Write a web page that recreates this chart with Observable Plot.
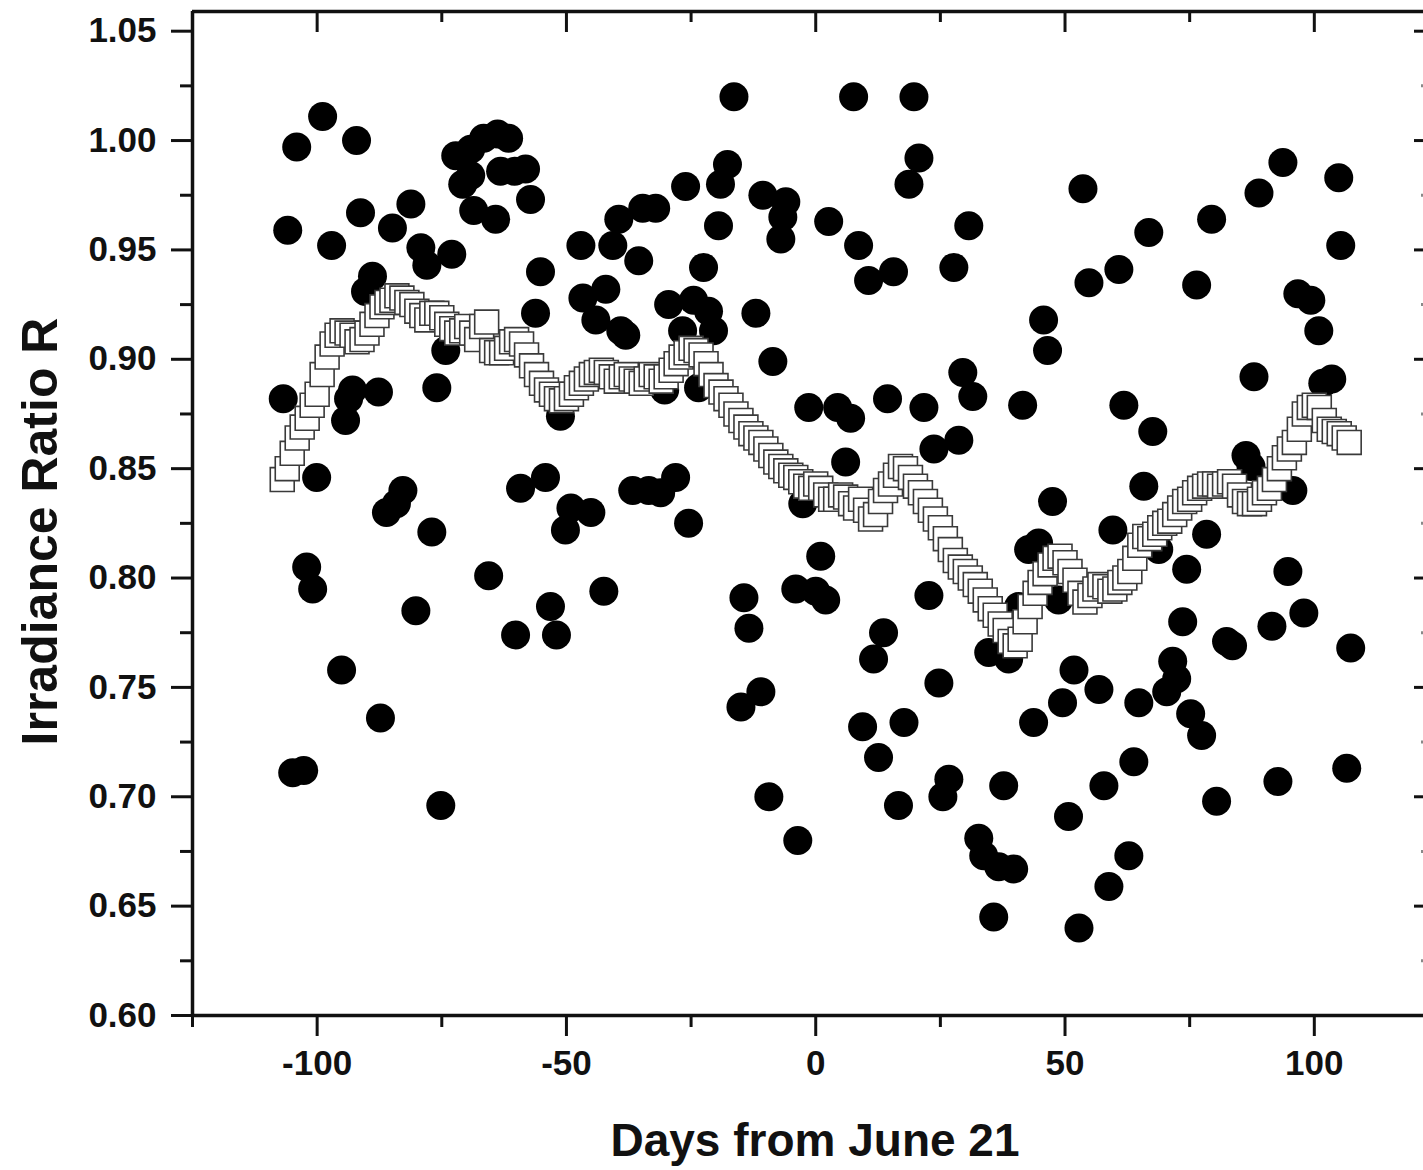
<!DOCTYPE html>
<html>
<head>
<meta charset="utf-8">
<script src="https://cdn.jsdelivr.net/npm/d3@7"></script>
<script src="https://cdn.jsdelivr.net/npm/@observablehq/plot@0.6"></script>
<style>
  html, body { margin: 0; padding: 0; background: #fff; }
  #chart svg { display: block; }
</style>
</head>
<body>
<div id="chart"></div>
<script>
// ---- axis ticks ----
const xMajor = [-100, -50, 0, 50, 100];
const xMinor = [-125, -75, -25, 25, 75];
const yMajor = [0.60, 0.65, 0.70, 0.75, 0.80, 0.85, 0.90, 0.95, 1.00, 1.05];
const yMinor = [0.625, 0.675, 0.725, 0.775, 0.825, 0.875, 0.925, 0.975, 1.025];
const xDomain = [-125, 121.9];
const yDomain = [0.60, 1.059];

// ---- daily measured ratio (filled circles) ----
const circDay = [-106.8,-105.9,-104.1,-104.9,-102.7,-102.1,-100.9,-100.1,-98.9,-97.1,-95.1,-94.3,-93.7,-92.9,-92.1,-91.3,-90.3,-88.9,-87.7,-87.3,-86.1,-84.9,-84.1,-82.8,-81.2,-80.2,-79.2,-78.0,-77.0,-76.0,-75.2,-74.2,-73.0,
 -72.2,-70.8,-69.2,-69.2,-66.6,-63.8,-61.6,-68.6,-64.2,-63.2,-60.4,-58.2,-57.2,-65.6,-60.2,-59.2,-56.2,-55.2,-54.2,-53.2,-52.0,-51.2,-50.2,-49.1,-47.1,-46.7,-45.1,-44.1,-42.5,-42.1,-40.7,-39.5,-39.1,-38.1,-36.7,-35.5,-34.7,-33.5,-32.1,-31.1,-30.3,-29.5,-28.1,-26.7,-26.1,-25.5,-24.5,-23.5,-22.5,-21.5,-20.5,-19.5,-19.1,-17.7,-16.4,
 -15.0,-11.0,-14.4,-13.4,-12.0,-10.6,-9.4,-8.6,-7.0,-6.6,-6.0,-4.0,-3.6,-2.6,-1.4,0.0,1.0,2.0,2.6,4.4,6.0,7.0,7.6,8.6,9.4,10.6,11.6,12.6,13.6,14.4,15.6,16.6,17.7,18.7,19.7,20.7,21.7,22.7,23.7,24.7,25.5,26.7,27.7,28.7,29.5,30.7,31.5,32.7,33.7,34.7,35.7,36.7,37.7,38.7,39.7,40.7,41.5,42.7,43.7,44.7,45.7,46.5,47.5,48.7,49.5,50.7,51.8,52.8,53.6,54.8,56.8,57.8,58.8,59.6,60.8,61.8,62.8,63.8,64.8,65.8,66.8,67.6,68.8,70.4,71.6,72.4,73.6,74.4,75.2,76.4,77.4,78.4,79.4,80.4,82.4,83.6,86.3,87.3,87.9,88.9,91.5,92.7,93.7,94.7,95.7,96.7,97.9,99.3,100.9,101.7,103.5,104.9,105.3,106.5,107.3];
const circVal = [0.882,0.959,0.997,0.711,0.712,0.805,0.795,0.846,1.011,0.952,0.758,0.872,0.882,0.886,1.000,0.967,0.931,0.938,0.885,0.736,0.830,0.960,0.834,0.840,0.971,0.785,0.951,0.943,0.821,0.887,0.696,0.904,0.948,
 0.993,0.980,0.984,0.996,1.001,1.003,1.001,0.968,0.964,0.986,0.986,0.987,0.973,0.801,0.774,0.841,0.921,0.940,0.846,0.787,0.774,0.874,0.822,0.832,0.952,0.928,0.830,0.918,0.794,0.932,0.952,0.964,0.913,0.911,0.840,0.945,0.969,0.840,0.969,0.839,0.886,0.925,0.846,0.913,0.979,0.825,0.927,0.887,0.942,0.922,0.913,0.961,0.980,0.989,1.020,
 0.741,0.748,0.791,0.777,0.921,0.975,0.700,0.899,0.955,0.965,0.972,0.795,0.680,0.834,0.878,0.794,0.810,0.790,0.963,0.878,0.853,0.873,1.020,0.952,0.732,0.936,0.763,0.718,0.775,0.882,0.940,0.696,0.734,0.980,1.020,0.992,0.878,0.792,0.859,0.752,0.700,0.708,0.942,0.863,0.894,0.961,0.883,0.681,0.673,0.766,0.645,0.668,0.705,0.763,0.667,0.787,0.879,0.813,0.734,0.816,0.918,0.904,0.835,0.790,0.743,0.691,0.758,0.640,0.978,0.935,0.749,0.705,0.659,0.822,0.941,0.879,0.673,0.716,0.743,0.842,0.958,0.867,0.813,0.748,0.762,0.754,0.780,0.804,0.738,0.934,0.728,0.820,0.964,0.698,0.771,0.769,0.856,0.851,0.892,0.976,0.778,0.707,0.990,0.803,0.840,0.930,0.784,0.927,0.913,0.889,0.891,0.983,0.952,0.713,0.768];

// ---- running mean (open squares) ----
const sqDay = [-107,-106,-105,-104,-103,-102,-101,-100,-99,-98,-97,-96,-95,-94,-93,-92,-91,-90,-89,-88,-87,-86,-85,-84,-83,-82,-81,-80,-79,-78,-77,-76,-75,-74,-73,-72,-71,-70,-69,-68,-67,-66,-65,-64,-63,-62,-61,-60,-59,-58,-57,-56,-55,-54,-53,-52,-51,-50,-49,-48,-47,-46,-45,-44,-43,-42,-41,-40,-39,-38,-37,-36,-35,-34,-33,-32,-31,-30,-29,-28,-27,-26,-25,-24,-23,-22,-21,-20,-19,-18,-17,-16,-15,-14,-13,-12,-11,-10,-9,-8,-7,-6,-5,-4,-3,-2,-1,0,1,2,3,4,5,6,7,8,9,10,11,12,13,14,15,16,17,18,19,20,21,22,23,24,25,26,27,28,29,30,31,32,33,34,35,36,37,38,39,40,41,42,43,44,45,46,47,48,49,50,51,52,53,54,55,56,57,58,59,60,61,62,63,64,65,66,67,68,69,70,71,72,73,74,75,76,77,78,79,80,81,82,83,84,85,86,87,88,89,90,91,92,93,94,95,96,97,98,99,100,101,102,103,104,105,106,107];
const sqVal = [0.845,0.850,0.857,0.864,0.869,0.873,0.879,0.884,0.893,0.901,0.907,0.911,0.913,0.912,0.911,0.908,0.909,0.912,0.916,0.920,0.924,0.926,0.927,0.929,0.928,0.926,0.925,0.922,0.920,0.918,0.921,0.921,0.919,0.916,0.914,0.912,0.913,0.915,0.912,0.909,0.915,0.917,0.904,0.903,0.903,0.905,0.908,0.909,0.907,0.902,0.897,0.893,0.889,0.886,0.884,0.882,0.881,0.882,0.884,0.887,0.889,0.891,0.893,0.894,0.895,0.894,0.892,0.890,0.892,0.893,0.891,0.890,0.889,0.891,0.893,0.892,0.890,0.892,0.895,0.898,0.901,0.903,0.905,0.904,0.902,0.898,0.893,0.888,0.885,0.882,0.879,0.875,0.872,0.869,0.866,0.864,0.862,0.859,0.856,0.853,0.851,0.849,0.847,0.846,0.844,0.842,0.841,0.843,0.841,0.838,0.836,0.836,0.838,0.837,0.834,0.832,0.836,0.831,0.827,0.829,0.835,0.840,0.843,0.847,0.851,0.850,0.846,0.842,0.839,0.835,0.831,0.827,0.823,0.818,0.813,0.808,0.805,0.803,0.800,0.797,0.794,0.790,0.786,0.783,0.779,0.776,0.771,0.769,0.772,0.780,0.787,0.793,0.798,0.802,0.806,0.809,0.810,0.807,0.803,0.799,0.793,0.789,0.792,0.795,0.797,0.796,0.794,0.795,0.798,0.800,0.803,0.809,0.815,0.819,0.818,0.820,0.823,0.825,0.826,0.829,0.832,0.835,0.836,0.839,0.841,0.842,0.843,0.843,0.842,0.843,0.844,0.842,0.838,0.835,0.834,0.834,0.836,0.839,0.841,0.845,0.850,0.855,0.859,0.862,0.868,0.875,0.878,0.879,0.878,0.872,0.868,0.867,0.866,0.864,0.862];

const circles = circDay.map((d, i) => ({day: d, r: circVal[i]}));
const squares = sqDay.map((d, i) => ({day: d, r: sqVal[i]}));

const font = "'Liberation Sans', Arial, Helvetica, sans-serif";
const ink = "#111";

const chart = Plot.plot({
  width: 1423,
  height: 1170,
  marginLeft: 192,
  marginRight: 0,
  marginTop: 11,
  marginBottom: 155,
  style: {fontFamily: font, fontWeight: "bold", fontSize: "35px", color: ink, background: "#fff"},
  x: {domain: xDomain},
  y: {domain: yDomain},
  marks: [
    // frame: left, top, bottom lines
    Plot.ruleY(yDomain, {stroke: ink, strokeWidth: 3.5}),
    Plot.ruleX([xDomain[0]], {stroke: ink, strokeWidth: 3.5}),
    // left axis
    Plot.axisY({anchor: "left", ticks: yMajor, tickSize: 21, tickPadding: 15, strokeWidth: 3, stroke: ink,
      tickFormat: d3.format(".2f"), fontSize: 35, fontWeight: "bold", label: null}),
    Plot.axisY({anchor: "left", ticks: yMinor, tickSize: 12, strokeWidth: 3, stroke: ink, tickFormat: () => "", label: null}),
    // bottom axis
    Plot.axisX({anchor: "bottom", ticks: xMajor, tickSize: 21, tickPadding: 14, strokeWidth: 3, stroke: ink,
      tickFormat: d => String(d), fontSize: 35, fontWeight: "bold", label: null}),
    Plot.axisX({anchor: "bottom", ticks: xMinor, tickSize: 12, strokeWidth: 3, stroke: ink, tickFormat: () => "", label: null}),
    // top axis (ticks pointing inward)
    Plot.axisX({anchor: "top", ticks: xMajor, tickSize: 20, dy: 20, strokeWidth: 3, stroke: ink, tickFormat: () => "", label: null}),
    Plot.axisX({anchor: "top", ticks: xMinor, tickSize: 10, dy: 10, strokeWidth: 3, stroke: ink, tickFormat: () => "", label: null}),
    // neighbouring panel ticks at right edge
    Plot.axisY({anchor: "right", ticks: yMajor, tickSize: 10, dx: -10, strokeWidth: 3, stroke: ink, tickFormat: () => "", label: null}),
    Plot.axisY({anchor: "right", ticks: yMinor, tickSize: 3, dx: -3, strokeWidth: 3, stroke: "#888", tickFormat: () => "", label: null}),
    // data
    Plot.dot(circles, {x: "day", y: "r", r: 14.5, fill: "#000", stroke: "none"}),
    Plot.dot(squares, {x: "day", y: "r", r: 13.5, symbol: "square", fill: "#fff", stroke: "#3a3a3a", strokeWidth: 1.6}),
    // axis titles
    Plot.text(["Days from June 21"], {frameAnchor: "bottom", dx: 7, dy: 140, lineAnchor: "bottom",
      fontSize: 46, fontWeight: "bold", fill: ink}),
    Plot.text(["Irradiance Ratio R"], {frameAnchor: "left", textAnchor: "middle", dx: -152, dy: 18, rotate: -90,
      fontSize: 50, fontWeight: "bold", fill: ink})
  ]
});
document.getElementById("chart").appendChild(chart);
</script>
</body>
</html>
